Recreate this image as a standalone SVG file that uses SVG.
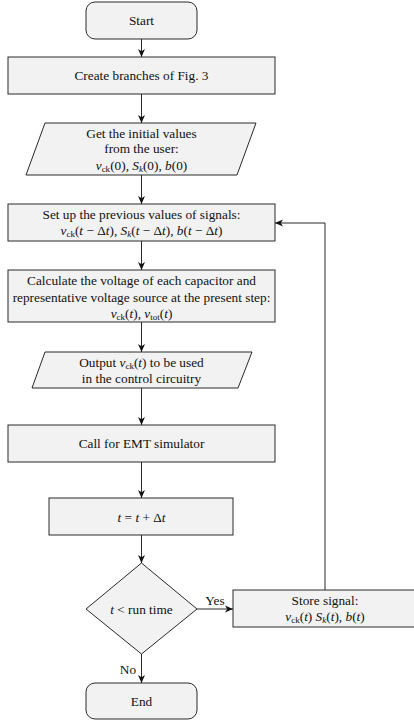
<svg xmlns="http://www.w3.org/2000/svg" width="414" height="724" viewBox="0 0 414 724">
<style>
.n{fill:#f2f2f2;stroke:#2a2a2a;stroke-width:1}
text{font-family:'Liberation Serif','DejaVu Serif',serif;font-size:13.3px;fill:#111;text-anchor:middle}
.i{font-style:italic}
.s{font-size:9px}
.c path{fill:none;stroke:#2a2a2a;stroke-width:1}
</style>
<defs>
<marker id="a" markerWidth="9" markerHeight="8" refX="8" refY="4" orient="auto" markerUnits="userSpaceOnUse">
<path d="M0,0.5 L8,4 L0,7.5 L2.2,4 z" fill="#111"/>
</marker>
</defs>
<g id="start"><rect class="n" x="86" y="2" width="111" height="37" rx="9"/><text x="141.5" y="25">Start</text></g>
<g id="create"><rect class="n" x="8" y="57" width="267" height="37"/><text x="141.5" y="80">Create branches of Fig. 3</text></g>
<g id="init"><polygon class="n" points="45,123 256,123 237,175 26,175"/>
<text x="141.5" y="137.5">Get the initial values</text>
<text x="141.5" y="152.5">from the user:</text>
<text x="141.5" y="169.5"><tspan class="i">v</tspan><tspan class="s" dy="2.5">ck</tspan><tspan dy="-2.5">(0), </tspan><tspan class="i">S</tspan><tspan class="s i" dy="2.5">k</tspan><tspan dy="-2.5">(0), </tspan><tspan class="i">b</tspan>(0)</text></g>
<g id="prev"><rect class="n" x="8" y="204" width="267" height="37"/>
<text x="141.5" y="218.5">Set up the previous values of signals:</text>
<text x="141.5" y="234.5"><tspan class="i">v</tspan><tspan class="s" dy="2.5">ck</tspan><tspan dy="-2.5">(</tspan><tspan class="i">t</tspan> − Δ<tspan class="i">t</tspan>), <tspan class="i">S</tspan><tspan class="s i" dy="2.5">k</tspan><tspan dy="-2.5">(</tspan><tspan class="i">t</tspan> − Δ<tspan class="i">t</tspan>), <tspan class="i">b</tspan>(<tspan class="i">t</tspan> − Δ<tspan class="i">t</tspan>)</text></g>
<g id="calc"><rect class="n" x="8" y="270" width="267" height="52"/>
<text x="141.5" y="284.5">Calculate the voltage of each capacitor and</text>
<text x="141.5" y="301.5">representative voltage source at the present step:</text>
<text x="141.5" y="317.5"><tspan class="i">v</tspan><tspan class="s" dy="2.5">ck</tspan><tspan dy="-2.5">(</tspan><tspan class="i">t</tspan>), <tspan class="i">v</tspan><tspan class="s" dy="2.5">tot</tspan><tspan dy="-2.5">(</tspan><tspan class="i">t</tspan>)</text></g>
<g id="output"><polygon class="n" points="45,352 252,352 238,388 32,388"/>
<text x="141.5" y="366.5">Output <tspan class="i">v</tspan><tspan class="s" dy="2.5">ck</tspan><tspan dy="-2.5">(</tspan><tspan class="i">t</tspan>) to be used</text>
<text x="141.5" y="382.5">in the control circuitry</text></g>
<g id="emt"><rect class="n" x="8" y="425" width="267" height="37"/><text x="141.5" y="448">Call for EMT simulator</text></g>
<g id="step"><rect class="n" x="49" y="498" width="184" height="37"/><text x="141.5" y="521.5"><tspan class="i">t</tspan> = <tspan class="i">t</tspan> + Δ<tspan class="i">t</tspan></text></g>
<g id="cond"><polygon class="n" points="141.5,563 197,609 141.5,654 86,609"/><text x="141.5" y="613.5"><tspan class="i">t</tspan> &lt; run time</text></g>
<g id="store"><rect class="n" x="233" y="590" width="184" height="37"/>
<text x="325" y="604.5">Store signal:</text>
<text x="325" y="620.5"><tspan class="i">v</tspan><tspan class="s" dy="2.5">ck</tspan><tspan dy="-2.5">(</tspan><tspan class="i">t</tspan>) <tspan class="i">S</tspan><tspan class="s i" dy="2.5">k</tspan><tspan dy="-2.5">(</tspan><tspan class="i">t</tspan>), <tspan class="i">b</tspan>(<tspan class="i">t</tspan>)</text></g>
<g id="end"><rect class="n" x="86" y="683" width="111" height="36" rx="9"/><text x="141.5" y="705.5">End</text></g>
<g id="connectors" class="c">
<path d="M141.5,39 V57" marker-end="url(#a)"/>
<path d="M141.5,94 V123" marker-end="url(#a)"/>
<path d="M141.5,175 V204" marker-end="url(#a)"/>
<path d="M141.5,241 V270" marker-end="url(#a)"/>
<path d="M141.5,322 V352" marker-end="url(#a)"/>
<path d="M141.5,388 V425" marker-end="url(#a)"/>
<path d="M141.5,462 V498" marker-end="url(#a)"/>
<path d="M141.5,535 V563" marker-end="url(#a)"/>
<path d="M197,609 H233" marker-end="url(#a)"/>
<path d="M141.5,654 V683" marker-end="url(#a)"/>
<path d="M325,590 V223 H275" marker-end="url(#a)"/>
<text x="215" y="605">Yes</text>
<text x="128" y="673.5">No</text>
</g>
</svg>
